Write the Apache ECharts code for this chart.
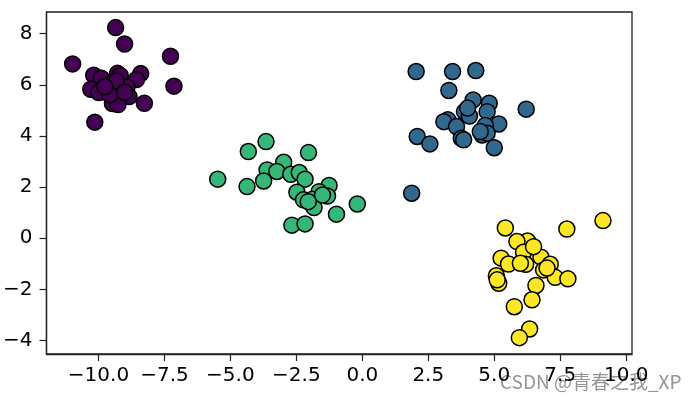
<!DOCTYPE html>
<html><head><meta charset="utf-8">
<script src="https://cdn.jsdelivr.net/npm/echarts@6/dist/echarts.min.js"></script>
<style>html,body{margin:0;padding:0;background:#fff}#c{width:696px;height:403px}</style>
</head><body><div id="c"></div>
<script>
const xTicks = [-10, -7.5, -5, -2.5, 0, 2.5, 5, 7.5, 10];
const yTicks = [-4, -2, 0, 2, 4, 6, 8];
const clusterColors = ['#440154', '#31688e', '#35b779', '#fde725'];
const purplePts = [[-9.35,8.24],[-9.01,7.60],[-10.98,6.82],[-7.27,7.12],[-7.14,5.95],[-10.18,6.38],[-9.89,6.26],[-9.28,6.45],[-9.17,6.36],[-8.40,6.44],[-8.56,6.21],[-9.60,6.02],[-9.23,5.96],[-8.92,5.92],[-10.29,5.83],[-9.99,5.70],[-8.84,5.54],[-9.47,5.27],[-9.26,5.23],[-8.26,5.28],[-10.14,4.54],[-9.32,6.15],[-9.57,5.61],[-9.01,5.71],[-9.76,5.93]];
const bluePts = [[2.04,6.52],[3.42,6.52],[4.30,6.56],[3.28,5.78],[4.20,5.41],[4.81,5.28],[3.87,4.95],[4.73,4.95],[4.06,4.78],[3.24,4.63],[3.09,4.56],[5.17,4.47],[3.57,4.37],[4.66,4.41],[4.54,4.04],[4.73,4.11],[3.75,3.91],[3.84,3.85],[2.08,3.98],[2.56,3.69],[5.00,3.54],[1.87,1.76],[6.21,5.05],[4.47,4.17],[3.99,5.09]];
const greenPts = [[-3.65,3.78],[-4.32,3.39],[-2.04,3.35],[-2.98,2.97],[-3.61,2.67],[-3.24,2.61],[-2.71,2.50],[-2.39,2.57],[-2.17,2.31],[-5.48,2.31],[-3.74,2.24],[-4.37,2.02],[-1.26,2.06],[-2.48,1.80],[-1.64,1.82],[-1.32,1.65],[-2.23,1.50],[-1.89,1.52],[-1.83,1.20],[-0.19,1.34],[-0.98,0.94],[-2.67,0.51],[-2.17,0.56],[-1.51,1.69],[-2.05,1.43]];
const yellowPts = [[9.12,0.69],[5.42,0.40],[7.75,0.36],[6.26,-0.11],[5.86,-0.13],[6.11,-0.55],[5.26,-0.78],[5.54,-1.01],[6.77,-0.74],[6.19,-1.02],[7.12,-1.02],[6.87,-1.24],[7.31,-1.53],[7.79,-1.59],[5.08,-1.47],[5.17,-1.76],[6.58,-1.85],[6.43,-2.41],[5.76,-2.68],[6.34,-3.55],[5.95,-3.89],[6.49,-0.33],[7.00,-1.17],[5.11,-1.63],[5.99,-0.98]];

const fmtX = v => (v < 0 ? '\u2212' : '') + Math.abs(v).toFixed(1);
const fmtY = v => (v < 0 ? '\u2212' : '') + Math.abs(v).toFixed(0);
const groups = [purplePts, bluePts, greenPts, yellowPts];
const chart = echarts.init(document.getElementById('c'));
chart.setOption({
  animation: false,
  grid: {left: 45, right: 64, top: 12, bottom: 49, show: true, borderColor: '#222', borderWidth: 1.3, backgroundColor: 'transparent'},
  xAxis: {
    type: 'value', min: -11.97, max: 10.22,
    axisLine: {show: true, onZero: false, lineStyle: {color: '#222', width: 1.3}},
    axisTick: {show: true, inside: false, length: 7, customValues: xTicks, lineStyle: {color: '#222', width: 1.2}},
    axisLabel: {customValues: xTicks, formatter: fmtX, color: '#000', fontSize: 20, fontFamily: 'DejaVu Sans', margin: 12},
    splitLine: {show: false}
  },
  yAxis: {
    type: 'value', min: -4.53, max: 8.85,
    axisLine: {show: true, onZero: false, lineStyle: {color: '#222', width: 1.3}},
    axisTick: {show: true, inside: false, length: 7, customValues: yTicks, lineStyle: {color: '#222', width: 1.2}},
    axisLabel: {customValues: yTicks, formatter: fmtY, color: '#000', fontSize: 20, fontFamily: 'DejaVu Sans', margin: 14},
    splitLine: {show: false}
  },
  series: groups.map((g, i) => ({
    type: 'scatter', data: g, symbol: 'circle', symbolSize: 16,
    itemStyle: {color: clusterColors[i], borderColor: '#000', borderWidth: 1.5, opacity: 1},
    emphasis: {disabled: true}
  })),
  graphic: [{
    type: 'text', right: 14, top: 372,
    style: {text: 'CSDN @青春之我_XP', fill: 'rgba(130,130,130,0.85)', font: '19px "Noto Sans CJK SC", sans-serif', stroke: 'rgba(255,255,255,0.5)', lineWidth: 1}
  }]
});
</script></body></html>
